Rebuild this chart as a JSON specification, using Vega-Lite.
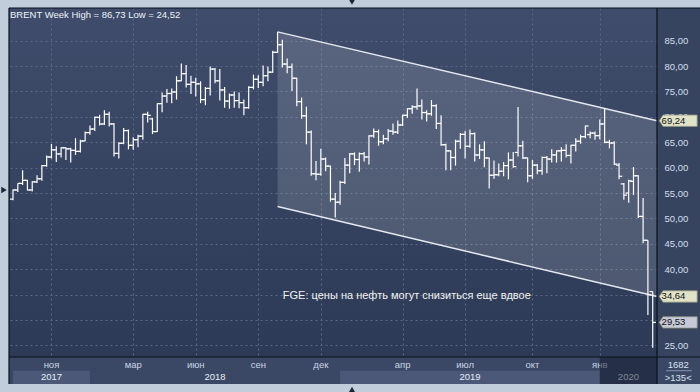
{
  "$schema": "https://vega.github.io/schema/vega-lite/v6.json",
  "width": 648,
  "height": 349,
  "autosize": {"type": "none"},
  "padding": {"left": 9, "top": 8, "right": 43, "bottom": 35},
  "background": "#37445f",
  "view": {"stroke": null, "fill": {"gradient": "linear", "x1": 0, "y1": 0, "x2": 0, "y2": 1, "stops": [{"offset": 0, "color": "#3f4c6b"}, {"offset": 1, "color": "#2d3a56"}]}},
  "config": {"font": "Liberation Sans"},
  "resolve": {"axis": {"x": "independent", "y": "independent"}},
  "datasets": {
    "bars": [
      {"i":0,"o":53.8,"h":55.7,"l":53.6,"c":55.6},{"i":1,"o":55.6,"h":56.9,"l":55.2,"c":56.9},{"i":2,"o":56.9,"h":59.5,"l":56.6,"c":57.5},{"i":3,"o":57.5,"h":57.6,"l":55.5,"c":55.6},{"i":4,"o":55.6,"h":57.3,"l":55.3,"c":57.2},{"i":5,"o":57.2,"h":58.5,"l":57.0,"c":57.8},{"i":6,"o":57.8,"h":60.5,"l":57.4,"c":60.4},{"i":7,"o":60.4,"h":62.4,"l":60.2,"c":62.1},{"i":8,"o":62.1,"h":64.65,"l":61.8,"c":63.5},{"i":9,"o":63.5,"h":64.2,"l":61.1,"c":62.7},
      {"i":10,"o":62.7,"h":64.0,"l":62.0,"c":63.9},{"i":11,"o":63.9,"h":64.0,"l":61.5,"c":63.7},{"i":12,"o":63.7,"h":63.9,"l":61.0,"c":63.4},{"i":13,"o":63.4,"h":65.8,"l":62.5,"c":63.2},{"i":14,"o":63.2,"h":65.5,"l":63.0,"c":65.25},{"i":15,"o":65.25,"h":67.1,"l":65.2,"c":66.9},{"i":16,"o":66.9,"h":68.3,"l":66.5,"c":67.6},{"i":17,"o":67.6,"h":70.05,"l":67.2,"c":69.9},{"i":18,"o":69.9,"h":70.4,"l":68.3,"c":68.6},{"i":19,"o":68.6,"h":71.3,"l":68.4,"c":70.5},
      {"i":20,"o":70.5,"h":71.0,"l":68.1,"c":68.6},{"i":21,"o":68.6,"h":68.8,"l":62.2,"c":62.8},{"i":22,"o":62.8,"h":65.0,"l":61.8,"c":64.8},{"i":23,"o":64.8,"h":67.8,"l":64.6,"c":67.3},{"i":24,"o":67.3,"h":67.5,"l":63.6,"c":64.4},{"i":25,"o":64.4,"h":66.0,"l":63.5,"c":65.5},{"i":26,"o":65.5,"h":66.5,"l":64.0,"c":66.2},{"i":27,"o":66.2,"h":70.6,"l":65.5,"c":70.5},{"i":28,"o":70.5,"h":71.0,"l":68.9,"c":70.3},{"i":29,"o":69.6,"h":69.8,"l":66.6,"c":67.1},
      {"i":30,"o":67.1,"h":72.7,"l":67.0,"c":72.6},{"i":31,"o":72.6,"h":74.8,"l":70.9,"c":74.1},{"i":32,"o":74.1,"h":75.5,"l":72.8,"c":74.6},{"i":33,"o":74.6,"h":75.6,"l":72.7,"c":74.9},{"i":34,"o":74.9,"h":78.0,"l":73.4,"c":77.1},{"i":35,"o":77.1,"h":80.5,"l":77.0,"c":78.5},{"i":36,"o":78.5,"h":80.2,"l":75.8,"c":76.4},{"i":37,"o":76.4,"h":78.1,"l":74.5,"c":76.8},{"i":38,"o":76.8,"h":77.7,"l":74.0,"c":76.5},{"i":39,"o":76.5,"h":77.0,"l":72.7,"c":73.4},
      {"i":40,"o":73.4,"h":75.9,"l":72.3,"c":75.6},{"i":41,"o":75.6,"h":79.9,"l":74.2,"c":79.4},{"i":42,"o":79.4,"h":79.6,"l":76.6,"c":77.1},{"i":43,"o":77.1,"h":79.4,"l":73.2,"c":75.3},{"i":44,"o":75.3,"h":75.9,"l":71.8,"c":73.1},{"i":45,"o":73.1,"h":74.6,"l":71.6,"c":74.3},{"i":46,"o":74.3,"h":75.0,"l":71.8,"c":73.2},{"i":47,"o":73.2,"h":74.8,"l":71.7,"c":72.8},{"i":48,"o":72.8,"h":73.4,"l":70.3,"c":71.8},{"i":49,"o":71.8,"h":76.0,"l":71.6,"c":75.8},
      {"i":50,"o":75.8,"h":78.3,"l":75.4,"c":77.4},{"i":51,"o":77.4,"h":78.2,"l":75.7,"c":76.8},{"i":52,"o":76.8,"h":80.1,"l":76.0,"c":78.1},{"i":53,"o":78.1,"h":79.9,"l":77.0,"c":78.8},{"i":54,"o":78.8,"h":83.0,"l":78.7,"c":82.7},{"i":55,"o":82.7,"h":86.73,"l":82.6,"c":84.2},{"i":56,"o":84.2,"h":85.2,"l":79.7,"c":80.4},{"i":57,"o":80.4,"h":81.5,"l":78.6,"c":79.8},{"i":58,"o":79.8,"h":80.5,"l":75.1,"c":77.6},{"i":59,"o":77.6,"h":77.7,"l":72.1,"c":73.0},
      {"i":60,"o":73.0,"h":73.8,"l":69.6,"c":70.2},{"i":61,"o":70.2,"h":72.0,"l":64.6,"c":67.0},{"i":62,"o":67.0,"h":67.3,"l":58.4,"c":58.8},{"i":63,"o":58.8,"h":61.3,"l":57.5,"c":58.7},{"i":64,"o":58.7,"h":63.7,"l":58.4,"c":61.7},{"i":65,"o":61.7,"h":62.0,"l":59.3,"c":60.3},{"i":66,"o":60.3,"h":60.4,"l":53.3,"c":53.8},{"i":67,"o":53.8,"h":55.0,"l":50.2,"c":53.2},{"i":68,"o":53.2,"h":57.4,"l":52.7,"c":57.1},{"i":69,"o":57.1,"h":61.9,"l":56.8,"c":60.5},
      {"i":70,"o":60.5,"h":62.9,"l":58.9,"c":62.7},{"i":71,"o":62.7,"h":63.0,"l":60.5,"c":61.6},{"i":72,"o":61.6,"h":63.0,"l":59.2,"c":62.75},{"i":73,"o":62.75,"h":63.1,"l":61.2,"c":62.1},{"i":74,"o":62.1,"h":66.4,"l":60.6,"c":66.25},{"i":75,"o":66.25,"h":67.7,"l":65.9,"c":67.1},{"i":76,"o":67.1,"h":67.5,"l":64.3,"c":65.1},{"i":77,"o":65.1,"h":66.5,"l":64.6,"c":65.7},{"i":78,"o":65.7,"h":67.6,"l":65.2,"c":67.2},{"i":79,"o":67.2,"h":68.7,"l":66.5,"c":67.0},
      {"i":80,"o":67.0,"h":69.3,"l":66.6,"c":68.4},{"i":81,"o":68.4,"h":70.4,"l":68.2,"c":70.3},{"i":82,"o":70.3,"h":71.7,"l":69.8,"c":71.6},{"i":83,"o":71.6,"h":72.3,"l":70.6,"c":71.97},{"i":84,"o":71.97,"h":75.6,"l":71.4,"c":72.15},{"i":85,"o":72.15,"h":73.4,"l":69.5,"c":70.85},{"i":86,"o":70.85,"h":71.3,"l":69.1,"c":70.6},{"i":87,"o":70.6,"h":73.3,"l":70.2,"c":72.2},{"i":88,"o":72.2,"h":72.5,"l":67.6,"c":68.7},{"i":89,"o":68.7,"h":70.3,"l":64.3,"c":64.5},
      {"i":90,"o":64.5,"h":64.7,"l":59.5,"c":63.3},{"i":91,"o":63.3,"h":63.4,"l":59.5,"c":62.0},{"i":92,"o":62.0,"h":65.5,"l":60.4,"c":65.2},{"i":93,"o":65.2,"h":66.8,"l":63.7,"c":66.55},{"i":94,"o":66.55,"h":67.2,"l":61.8,"c":64.2},{"i":95,"o":64.2,"h":67.5,"l":63.9,"c":66.7},{"i":96,"o":66.7,"h":66.9,"l":61.2,"c":62.5},{"i":97,"o":62.5,"h":64.6,"l":61.7,"c":63.5},{"i":98,"o":63.5,"h":65.2,"l":60.1,"c":61.9},{"i":99,"o":61.9,"h":62.0,"l":55.9,"c":58.5},
      {"i":100,"o":58.5,"h":61.4,"l":57.8,"c":58.6},{"i":101,"o":58.6,"h":60.8,"l":58.3,"c":59.3},{"i":102,"o":59.3,"h":61.1,"l":58.3,"c":60.4},{"i":103,"o":60.4,"h":63.0,"l":57.7,"c":61.5},{"i":104,"o":61.5,"h":63.1,"l":60.0,"c":60.2},{"i":105,"o":63.0,"h":71.95,"l":62.2,"c":64.3},{"i":106,"o":64.3,"h":65.3,"l":61.7,"c":61.9},{"i":107,"o":61.9,"h":62.0,"l":57.1,"c":58.4},{"i":108,"o":58.4,"h":61.5,"l":57.8,"c":60.5},{"i":109,"o":60.5,"h":60.7,"l":58.7,"c":59.4},
      {"i":110,"o":59.4,"h":62.2,"l":58.6,"c":62.0},{"i":111,"o":62.0,"h":62.3,"l":58.9,"c":61.7},{"i":112,"o":61.7,"h":63.6,"l":61.0,"c":62.5},{"i":113,"o":62.5,"h":63.4,"l":61.0,"c":63.3},{"i":114,"o":63.3,"h":64.0,"l":61.2,"c":63.4},{"i":115,"o":63.4,"h":64.6,"l":62.0,"c":62.4},{"i":116,"o":62.4,"h":64.5,"l":60.8,"c":64.4},{"i":117,"o":64.4,"h":65.8,"l":63.2,"c":65.2},{"i":118,"o":65.2,"h":66.5,"l":64.7,"c":66.1},{"i":119,"o":66.1,"h":68.3,"l":65.8,"c":68.2},
      {"i":120,"o":66.5,"h":67.1,"l":65.8,"c":66.8},{"i":121,"o":66.8,"h":67.1,"l":65.5,"c":66.3},{"i":122,"o":66.3,"h":69.5,"l":65.6,"c":68.6},{"i":123,"o":68.6,"h":71.75,"l":64.8,"c":65.0},{"i":124,"o":65.0,"h":65.5,"l":63.8,"c":64.85},{"i":125,"o":64.85,"h":65.2,"l":60.5,"c":60.7},{"i":126,"o":60.5,"h":60.9,"l":57.7,"c":58.3},{"i":127,"o":56.8,"h":57.0,"l":53.7,"c":54.6},{"i":128,"o":55.0,"h":57.6,"l":53.1,"c":57.4},{"i":129,"o":57.3,"h":60.1,"l":54.6,"c":58.4},
      {"i":130,"o":58.4,"h":58.5,"l":50.1,"c":50.4},{"i":131,"o":50.4,"h":54.0,"l":45.1,"c":45.7},{"i":132,"o":45.7,"h":45.7,"l":31.0,"c":35.0},{"i":133,"o":35.6,"h":35.6,"l":24.52,"c":29.53}
    ],
    "channel": [
      {"i": 55, "hi": 86.73, "lo": 52.34},
      {"i": 133.89, "hi": 69.24, "lo": 34.64}
    ],
    "tags": [
      {"v": 69.24, "label": "69,24", "kind": "line"},
      {"v": 34.64, "label": "34,64", "kind": "line"},
      {"v": 29.53, "label": "29,53", "kind": "last"}
    ],
    "months": [
      {"i": 8, "m": "ноя"}, {"i": 25, "m": "мар"}, {"i": 38, "m": "июн"}, {"i": 51, "m": "сен"}, {"i": 64, "m": "дек"},
      {"i": 81, "m": "апр"}, {"i": 94, "m": "июл"}, {"i": 108, "m": "окт"}, {"i": 122, "m": "янв"}
    ],
    "years": [
      {"a": 0, "b": 16, "year": "2017", "band": "light"},
      {"a": 16, "b": 68, "year": "2018", "band": "plain"},
      {"a": 68, "b": 122, "year": "2019", "band": "light"},
      {"a": 122, "b": 133.89, "year": "2020", "band": "plain"}
    ]
  },
  "layer": [
    {
      "data": {"values": [{"x1": -0.83, "x2": 160, "y1": 17.4, "y2": 22.72}]},
      "mark": {"type": "rect", "color": "#3a4765"},
      "encoding": {
        "x": {"field": "x1", "type": "quantitative", "scale": {"domain": [-0.83, 133.89], "nice": false, "zero": false}, "axis": null},
        "x2": {"field": "x2"},
        "y": {"field": "y1", "type": "quantitative", "scale": {"domain": [22.72, 91.43], "nice": false, "zero": false}, "axis": null},
        "y2": {"field": "y2"}
      }
    },
    {
      "data": {"name": "years"},
      "transform": [{"filter": "datum.band == 'light'"}],
      "mark": {"type": "rect", "color": "#4b5877"},
      "encoding": {
        "x": {"field": "a", "type": "quantitative", "axis": null},
        "x2": {"field": "b"},
        "y": {"datum": 17.4, "axis": null},
        "y2": {"datum": 20.0}
      }
    },
    {
      "data": {"values": [
        {"x1": -5, "x2": -0.83, "y1": 10, "y2": 100},
        {"x1": -5, "x2": 160, "y1": 91.43, "y2": 100},
        {"x1": -5, "x2": 160, "y1": 10, "y2": 17.4}
      ]},
      "mark": {"type": "rect", "color": "#c2cddb"},
      "encoding": {
        "x": {"field": "x1", "type": "quantitative", "axis": null},
        "x2": {"field": "x2"},
        "y": {"field": "y1", "type": "quantitative", "axis": null},
        "y2": {"field": "y2"}
      }
    },
    {
      "data": {"name": "channel"},
      "mark": {"type": "area", "color": "#ffffff", "opacity": 0.14},
      "encoding": {
        "x": {"field": "i", "type": "quantitative", "axis": null},
        "y": {"field": "hi", "type": "quantitative", "axis": null},
        "y2": {"field": "lo"}
      }
    },
    {
      "data": {"name": "channel"},
      "mark": {"type": "line", "color": "#e6e8ef", "strokeWidth": 1.5},
      "encoding": {
        "x": {"field": "i", "type": "quantitative", "axis": null},
        "y": {"field": "hi", "type": "quantitative", "axis": null}
      }
    },
    {
      "data": {"name": "channel"},
      "mark": {"type": "line", "color": "#e6e8ef", "strokeWidth": 1.5},
      "encoding": {
        "x": {"field": "i", "type": "quantitative", "axis": null},
        "y": {"field": "lo", "type": "quantitative", "axis": null}
      }
    },
    {
      "data": {"name": "bars"},
      "mark": {"type": "rule", "color": "#ffffff", "strokeWidth": 1.2},
      "encoding": {
        "x": {"field": "i", "type": "quantitative",
          "axis": {"values": [8, 25, 38, 51, 64, 81, 94, 108, 122], "grid": true, "labels": false, "ticks": false, "domain": false, "title": null, "gridColor": "#5a6886", "gridDash": [2, 3], "gridWidth": 1}},
        "y": {"field": "l", "type": "quantitative",
          "axis": {"orient": "right", "values": [25, 30, 35, 40, 45, 50, 55, 60, 65, 70, 75, 80, 85], "grid": true, "gridColor": "#5a6886", "gridDash": [2, 3], "gridWidth": 1, "ticks": false, "tickSize": 0, "domain": false, "title": null, "labelExpr": "datum.value == 30 || datum.value == 35 ? '' : replace(format(datum.value, '.2f'), '.', ',')", "labelColor": "#d3dfef", "labelFont": "Liberation Sans", "labelFontSize": 9.5, "labelPadding": 7, "labelOverlap": false}},
        "y2": {"field": "h"}
      }
    },
    {
      "data": {"name": "bars"},
      "mark": {"type": "rule", "color": "#ffffff", "strokeWidth": 1.2, "xOffset": -3.2},
      "encoding": {
        "x": {"field": "i", "type": "quantitative", "axis": null},
        "x2": {"field": "i"},
        "y": {"field": "o", "type": "quantitative", "axis": null}
      }
    },
    {
      "data": {"name": "bars"},
      "mark": {"type": "rule", "color": "#ffffff", "strokeWidth": 1.2, "x2Offset": 3.2},
      "encoding": {
        "x": {"field": "i", "type": "quantitative", "axis": null},
        "x2": {"field": "i"},
        "y": {"field": "c", "type": "quantitative", "axis": null}
      }
    },
    {
      "data": {"name": "months"},
      "mark": {"type": "text", "color": "#c9d4e4", "fontSize": 9.5, "align": "center", "baseline": "alphabetic"},
      "encoding": {
        "x": {"field": "i", "type": "quantitative", "axis": null},
        "y": {"datum": 20.5, "axis": null},
        "text": {"field": "m"}
      }
    },
    {
      "data": {"name": "years"},
      "transform": [{"calculate": "(datum.a + datum.b) / 2", "as": "mid"}],
      "mark": {"type": "text", "color": "#e6edf7", "fontSize": 9.5, "align": "center", "baseline": "alphabetic"},
      "encoding": {
        "x": {"field": "mid", "type": "quantitative", "axis": null},
        "y": {"datum": 18.2, "axis": null},
        "text": {"field": "year"}
      }
    },
    {
      "data": {"name": "years"},
      "transform": [{"filter": "datum.year == '2020'"}],
      "mark": {"type": "rect", "color": "#0f1729", "opacity": 0.5},
      "encoding": {
        "x": {"field": "a", "type": "quantitative", "axis": null},
        "x2": {"field": "b"},
        "y": {"datum": 17.4, "axis": null},
        "y2": {"datum": 22.72}
      }
    },
    {
      "data": {"values": [
        {"x1": 133.89, "x2": 133.89, "y1": 17.4, "y2": 91.43},
        {"x1": -0.83, "x2": 160, "y1": 22.72, "y2": 22.72},
        {"x1": -0.83, "x2": -0.83, "y1": 17.4, "y2": 91.43},
        {"x1": -0.83, "x2": 160, "y1": 91.43, "y2": 91.43}
      ]},
      "mark": {"type": "rule", "color": "#0b111d", "strokeWidth": 1.2},
      "encoding": {
        "x": {"field": "x1", "type": "quantitative", "axis": null},
        "x2": {"field": "x2"},
        "y": {"field": "y1", "type": "quantitative", "axis": null},
        "y2": {"field": "y2"}
      }
    },
    {
      "data": {"name": "tags"},
      "mark": {"type": "point", "shape": "M-1,0L-0.8,-0.3L1,-0.3L1,0.3L-0.8,0.3Z", "filled": true, "size": 1444, "opacity": 1, "stroke": "#8a8f7a", "strokeWidth": 0.8},
      "encoding": {
        "x": {"datum": 138.3, "axis": null},
        "y": {"field": "v", "type": "quantitative", "axis": null},
        "fill": {"field": "kind", "type": "nominal", "scale": {"domain": ["line", "last"], "range": ["#e0e3c8", "#c6c9d7"]}, "legend": null}
      }
    },
    {
      "data": {"name": "tags"},
      "mark": {"type": "text", "color": "#111111", "fontSize": 9.5, "align": "left", "baseline": "middle"},
      "encoding": {
        "x": {"datum": 134.85, "axis": null},
        "y": {"field": "v", "type": "quantitative", "axis": null},
        "text": {"field": "label"}
      }
    },
    {
      "data": {"values": [{"t": "1682", "v": 20.61}, {"t": ">135<", "v": 18.0}]},
      "mark": {"type": "text", "color": "#d8e2f0", "fontSize": 9.5, "align": "center", "baseline": "alphabetic"},
      "encoding": {
        "x": {"datum": 138.3, "axis": null},
        "y": {"field": "v", "type": "quantitative", "axis": null},
        "text": {"field": "t"}
      }
    },
    {
      "data": {"values": [{"x1": 135.8, "x2": 141.1, "y": 20.02}]},
      "mark": {"type": "rule", "color": "#8a96ae", "strokeWidth": 1},
      "encoding": {
        "x": {"field": "x1", "type": "quantitative", "axis": null},
        "x2": {"field": "x2"},
        "y": {"field": "y", "type": "quantitative", "axis": null}
      }
    },
    {
      "data": {"values": [
        {"x": -1.87, "y": 55.6, "s": "triangle-right"},
        {"x": 70.48, "y": 92.6, "s": "triangle-down"},
        {"x": 70.48, "y": 16.3, "s": "triangle-up"}
      ]},
      "mark": {"type": "point", "filled": true, "size": 40, "opacity": 1, "color": "#1c2436"},
      "encoding": {
        "x": {"field": "x", "type": "quantitative", "axis": null},
        "y": {"field": "y", "type": "quantitative", "axis": null},
        "shape": {"field": "s", "type": "nominal", "scale": null, "legend": null}
      }
    },
    {
      "data": {"values": [{"t": "BRENT Week High = 86,73 Low = 24,52"}]},
      "mark": {"type": "text", "color": "#f0f4fa", "fontSize": 9.5, "align": "left", "baseline": "alphabetic"},
      "encoding": {
        "x": {"datum": -0.62, "axis": null},
        "y": {"datum": 89.4, "axis": null},
        "text": {"field": "t"}
      }
    },
    {
      "data": {"values": [{"t": "FGE: цены на нефть могут снизиться еще вдвое"}]},
      "mark": {"type": "text", "color": "#f2f2f2", "fontSize": 11, "align": "left", "baseline": "alphabetic"},
      "encoding": {
        "x": {"datum": 56.1, "axis": null},
        "y": {"datum": 34.1, "axis": null},
        "text": {"field": "t"}
      }
    }
  ]
}
